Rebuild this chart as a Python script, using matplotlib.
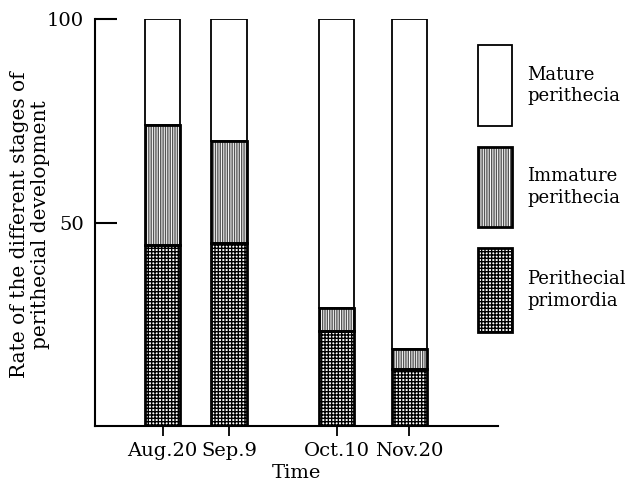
import numpy as np
import matplotlib.pyplot as plt
from matplotlib.patches import Rectangle

dates = ["Aug.20", "Sep.9", "Oct.10", "Nov.20"]
primordia = [44.5, 45, 23.5, 14]
immature = [29.5, 25, 5.5, 5]
mature = [26, 30, 71, 81]

# bar centres along the time axis (uneven spacing)
xpos = [1.68, 3.33, 6.0, 7.8]
width = 0.87

plt.rcParams['font.family'] = ['DejaVu Serif']
plt.rcParams['hatch.linewidth'] = 1.0

imm_col = '#555555'

fig = plt.figure(figsize=(6.36, 4.93), dpi=100)
ax = fig.add_axes([0.149, 0.135, 0.634, 0.827])

prim = np.array(primordia)
imm = np.array(immature)
mat = np.array(mature)

# hatched fills first, then black outlines on top
ax.bar(xpos, prim, width, color='white', edgecolor='black', hatch='+++++', linewidth=0)
ax.bar(xpos, imm, width, bottom=prim, color='white', edgecolor=imm_col, hatch='|||||||', linewidth=0)
ax.bar(xpos, prim, width, fill=False, edgecolor='black', linewidth=2)
ax.bar(xpos, imm, width, bottom=prim, fill=False, edgecolor='black', linewidth=2)
ax.bar(xpos, mat, width, bottom=prim + imm, fill=False, edgecolor='black', linewidth=1.3)

ax.set_xlim(0, 10)
ax.set_ylim(0, 100)
ax.spines['top'].set_visible(False)
ax.spines['right'].set_visible(False)
ax.spines['left'].set_linewidth(1.5)
ax.spines['bottom'].set_linewidth(1.5)

ax.set_yticks([50, 100])
ax.set_yticklabels(['50', '100'], fontsize=14)
ax.tick_params(axis='y', direction='in', length=16, width=1.5, pad=8)
ax.set_xticks(xpos)
ax.set_xticklabels(dates, fontsize=14)
ax.tick_params(axis='x', direction='out', length=7, width=1.3, pad=4)

ax.set_xlabel('Time', fontsize=14, labelpad=3)
ax.set_ylabel('Rate of the different stages of\nperithecial development', fontsize=14.5,
              linespacing=1.15)
ax.yaxis.set_label_coords(-0.11, 0.494)

# legend boxes at the right, in figure pixel coordinates
W, H = 636, 493
legend = [
    ('Mature\nperithecia', 45, 126, None, None, 1.3),
    ('Immature\nperithecia', 147, 227, '|||||||', imm_col, 2),
    ('Perithecial\nprimordia', 248, 332, '+++++', 'black', 2),
]
for label, y0, y1, hatch, hcol, lw in legend:
    x0, x1 = 478, 512
    bx = x0 / W
    by = 1 - y1 / H
    bw = (x1 - x0) / W
    bh = (y1 - y0) / H
    if hatch:
        fig.patches.append(Rectangle((bx, by), bw, bh, transform=fig.transFigure,
                                     facecolor='white', edgecolor=hcol, hatch=hatch, linewidth=0))
    fig.patches.append(Rectangle((bx, by), bw, bh, transform=fig.transFigure,
                                 fill=False, edgecolor='black', linewidth=lw))
    fig.text(527 / W, 1 - (y0 + y1) / 2 / H, label, fontsize=13, va='center', ha='left',
             linespacing=1.25)

fig.savefig('out.png', dpi=100)
